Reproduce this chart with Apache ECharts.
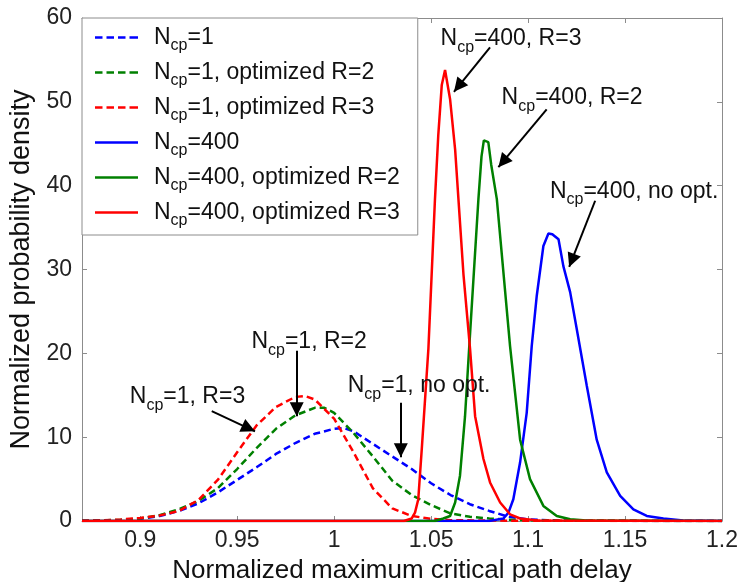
<!DOCTYPE html>
<html><head><meta charset="utf-8">
<script src="https://cdn.jsdelivr.net/npm/echarts@6/dist/echarts.min.js"></script>
<style>html,body{margin:0;padding:0;background:#fff}#c{width:742px;height:582px}</style>
</head><body><div id="c"></div>
<script>
// ---- Data ----
const seriesNames = ['Ncp=1', 'Ncp=1, optimized R=2', 'Ncp=1, optimized R=3', 'Ncp=400', 'Ncp=400, optimized R=2', 'Ncp=400, optimized R=3'];
const xTicks = [0.9, 0.95, 1.0, 1.05, 1.1, 1.15, 1.2];
const yTicks = [0, 10, 20, 30, 40, 50, 60];

const ncp1X = [0.87,0.88,0.89,0.90,0.91,0.92,0.93,0.94,0.95,0.96,0.97,0.98,0.99,1.00,1.005,1.01,1.02,1.03,1.04,1.05,1.06,1.07,1.08,1.09,1.10,1.11,1.12,1.14,1.17,1.20];
const ncp1Y = [0.02,0.05,0.12,0.25,0.6,1.2,2.1,3.4,4.9,6.4,8.0,9.3,10.4,11.0,11.1,10.7,9.2,7.7,6.2,4.5,3.1,2.0,1.2,0.5,0.2,0.1,0.05,0.02,0.01,0];

const ncp1R2X = [0.87,0.88,0.89,0.90,0.91,0.92,0.93,0.94,0.95,0.96,0.97,0.98,0.99,0.995,1.00,1.01,1.02,1.03,1.04,1.05,1.06,1.07,1.08,1.09,1.10,1.12,1.20];
const ncp1R2Y = [0.02,0.06,0.15,0.3,0.7,1.4,2.4,3.9,6.2,8.7,11.0,12.6,13.5,13.5,12.9,10.5,7.7,4.8,3.1,1.9,0.9,0.5,0.3,0.15,0.08,0.03,0];

const ncp1R3X = [0.87,0.88,0.89,0.90,0.91,0.92,0.93,0.94,0.95,0.96,0.97,0.98,0.985,0.99,1.00,1.01,1.02,1.03,1.04,1.05,1.06,1.08,1.12,1.20];
const ncp1R3Y = [0.03,0.08,0.18,0.35,0.65,1.2,2.5,4.9,8.2,11.4,13.6,14.8,14.9,14.5,12.2,8.2,3.9,1.5,0.6,0.25,0.1,0.05,0.02,0];

const ncp400X = [0.87,1.08,1.0873,1.0899,1.0924,1.0959,1.0993,1.1019,1.1045,1.1079,1.1105,1.1125,1.1157,1.1182,1.1217,1.1251,1.1303,1.1354,1.1406,1.1475,1.1543,1.1612,1.1698,1.18,1.2];
const ncp400Y = [0,0,0.3,1.0,2.6,7.0,12.9,20.9,26.9,32.8,34.3,34.2,33.6,30.4,27.3,22.9,16.1,9.7,5.8,3.0,1.4,0.6,0.3,0.05,0];

const ncp400R2X = [0.87,1.052,1.0563,1.0598,1.0624,1.0649,1.0675,1.0696,1.0744,1.076,1.0772,1.0795,1.081,1.0839,1.0907,1.0959,1.101,1.1079,1.1148,1.1217,1.13,1.2];
const ncp400R2Y = [0,0,0.3,0.6,2.2,5.4,12.5,20.5,38.4,43.5,45.4,45.2,42.5,38.4,20.9,9.7,5.0,1.8,0.6,0.2,0.05,0];

const ncp400R3X = [0.87,1.036,1.040,1.0417,1.0434,1.0452,1.0486,1.052,1.0537,1.0555,1.0572,1.0598,1.0624,1.0641,1.0667,1.0701,1.0727,1.077,1.0804,1.0856,1.0907,1.0959,1.105,1.2];
const ncp400R3Y = [0,0,0.3,1.0,2.6,8.6,20.5,38.4,46,52,53.8,50.3,44.3,38.4,29.4,20.5,12.5,7.4,4.6,2.2,0.8,0.3,0.05,0];

// annotation texts and their anchor points (data units)
const annotTexts = ['Ncp=400, R=3', 'Ncp=400, R=2', 'Ncp=400, no opt.', 'Ncp=1, R=2', 'Ncp=1, R=3', 'Ncp=1, no opt.'];
const annotX = [1.0912, 1.1227, 1.1547, 0.9871, 0.9244, 1.0438];
const annotY = [57.5, 50.5, 39.3, 21.4, 14.8, 16.1];
// arrows: tail -> head (data units)
const arrowFromX = [1.0804, 1.1096, 1.1346, 0.9807, 0.9369, 1.0344];
const arrowFromY = [56.5, 49.1, 38.2, 20.3, 13.1, 14.1];
const arrowToX = [1.0618, 1.0847, 1.1212, 0.9807, 0.9592, 1.0344];
const arrowToY = [51.2, 42.2, 30.3, 12.5, 10.7, 7.6];

// ---- Chart ----
const FONT = "'Liberation Sans', Arial, sans-serif";
const TXT = '#111';
const zip = (xs, ys) => xs.map((x, i) => [x, ys[i]]);
const seriesData = [zip(ncp1X, ncp1Y), zip(ncp1R2X, ncp1R2Y), zip(ncp1R3X, ncp1R3Y), zip(ncp400X, ncp400Y), zip(ncp400R2X, ncp400R2Y), zip(ncp400R3X, ncp400R3Y)];
const colors = ['#0000ff', '#008000', '#ff0000', '#0000ff', '#008000', '#ff0000'];
const dashed = [true, true, true, false, false, false];
const dashIcon = 'path://M0,0h7.5v2.5h-7.5z M11.5,0h7.5v2.5h-7.5z M23,0h7.5v2.5h-7.5z M34.5,0h8.5v2.5h-8.5z';
const solidIcon = 'path://M0,0h43v2.5h-43z';
const sub = n => n.replace('Ncp', 'N{sub|cp}');
const richSub = { sub: { fontSize: 16, lineHeight: 16, verticalAlign: 'bottom', color: TXT, fontFamily: FONT } };
const axisGray = '#8c8c8c';

const lineSeries = seriesNames.map((name, i) => ({
  name, type: 'line', data: seriesData[i], showSymbol: false, symbol: 'none',
  lineStyle: { color: colors[i], width: 2.5, type: dashed[i] ? [7, 4] : 'solid' },
  itemStyle: { color: colors[i] }, z: 2 + i
}));

const annotSeries = {
  name: 'annot', type: 'scatter', symbolSize: 0, z: 20,
  itemStyle: { opacity: 1, color: 'rgba(0,0,0,0)' },
  data: annotTexts.map((t, i) => [annotX[i], annotY[i], t]),
  label: {
    show: true, position: 'inside', formatter: p => sub(p.data[2]),
    fontSize: 23, lineHeight: 33, color: TXT, opacity: 1, fontFamily: FONT, rich: richSub
  },
  markLine: {
    silent: true, animation: false,
    symbol: ['none', 'triangle'], symbolSize: 14, symbolOffset: [0, [0, 7]],
    lineStyle: { color: '#000', width: 2, type: 'solid' },
    itemStyle: { color: '#000' },
    label: { show: false },
    data: arrowFromX.map((x, i) => [{ coord: [x, arrowFromY[i]] }, { coord: [arrowToX[i], arrowToY[i]] }])
  }
};

const fmtX = v => String(Number(v.toFixed(2)));
const chart = echarts.init(document.getElementById('c'), null, { renderer: 'canvas' });
chart.setOption({
  animation: false,
  backgroundColor: '#fff',
  grid: { left: 82, right: 20, top: 18, bottom: 61, outerBoundsMode: 'none', containLabel: false },
  legend: {
    orient: 'vertical', left: 82, top: 18, padding: [3, 18, 6, 13],
    itemGap: 2, itemWidth: 43, itemHeight: 2.5,
    backgroundColor: '#fff', borderColor: axisGray, borderWidth: 1, borderRadius: 0,
    data: seriesNames.map((n, i) => ({ name: n, icon: dashed[i] ? dashIcon : solidIcon })),
    selectedMode: false,
    formatter: n => sub(n),
    textStyle: { fontSize: 23, lineHeight: 33, color: TXT, fontFamily: FONT, padding: [0, 0, 0, 11], rich: richSub }
  },
  xAxis: [{
    type: 'value', min: 0.87, max: 1.2, position: 'bottom',
    name: 'Normalized maximum critical path delay', nameLocation: 'middle', nameGap: 37,
    nameTextStyle: { fontSize: 26, color: TXT, fontFamily: FONT },
    axisLine: { show: true, onZero: false, lineStyle: { color: axisGray, width: 1 } },
    axisTick: { show: true, inside: true, length: 5, customValues: xTicks, lineStyle: { color: axisGray } },
    axisLabel: { customValues: xTicks, formatter: fmtX, fontSize: 23, color: '#222', fontFamily: FONT, margin: 8 },
    splitLine: { show: false }
  }, {
    type: 'value', min: 0.87, max: 1.2, position: 'top',
    axisLine: { show: true, onZero: false, lineStyle: { color: axisGray, width: 1 } },
    axisTick: { show: true, inside: true, length: 5, customValues: xTicks, lineStyle: { color: axisGray } },
    axisLabel: { show: false, customValues: xTicks },
    splitLine: { show: false }
  }],
  yAxis: [{
    type: 'value', min: 0, max: 60, interval: 10, position: 'left',
    name: 'Normalized probability density', nameLocation: 'middle', nameGap: 42,
    nameTextStyle: { fontSize: 27, color: TXT, fontFamily: FONT },
    axisLine: { show: true, onZero: false, lineStyle: { color: axisGray, width: 1 } },
    axisTick: { show: true, inside: true, length: 5, lineStyle: { color: axisGray } },
    axisLabel: { fontSize: 23, color: '#222', fontFamily: FONT, margin: 10, customValues: yTicks },
    splitLine: { show: false }
  }, {
    type: 'value', min: 0, max: 60, interval: 10, position: 'right',
    axisLine: { show: true, onZero: false, lineStyle: { color: axisGray, width: 1 } },
    axisTick: { show: true, inside: true, length: 5, lineStyle: { color: axisGray } },
    axisLabel: { show: false },
    splitLine: { show: false }
  }],
  series: [...lineSeries, annotSeries]
});
</script></body></html>
